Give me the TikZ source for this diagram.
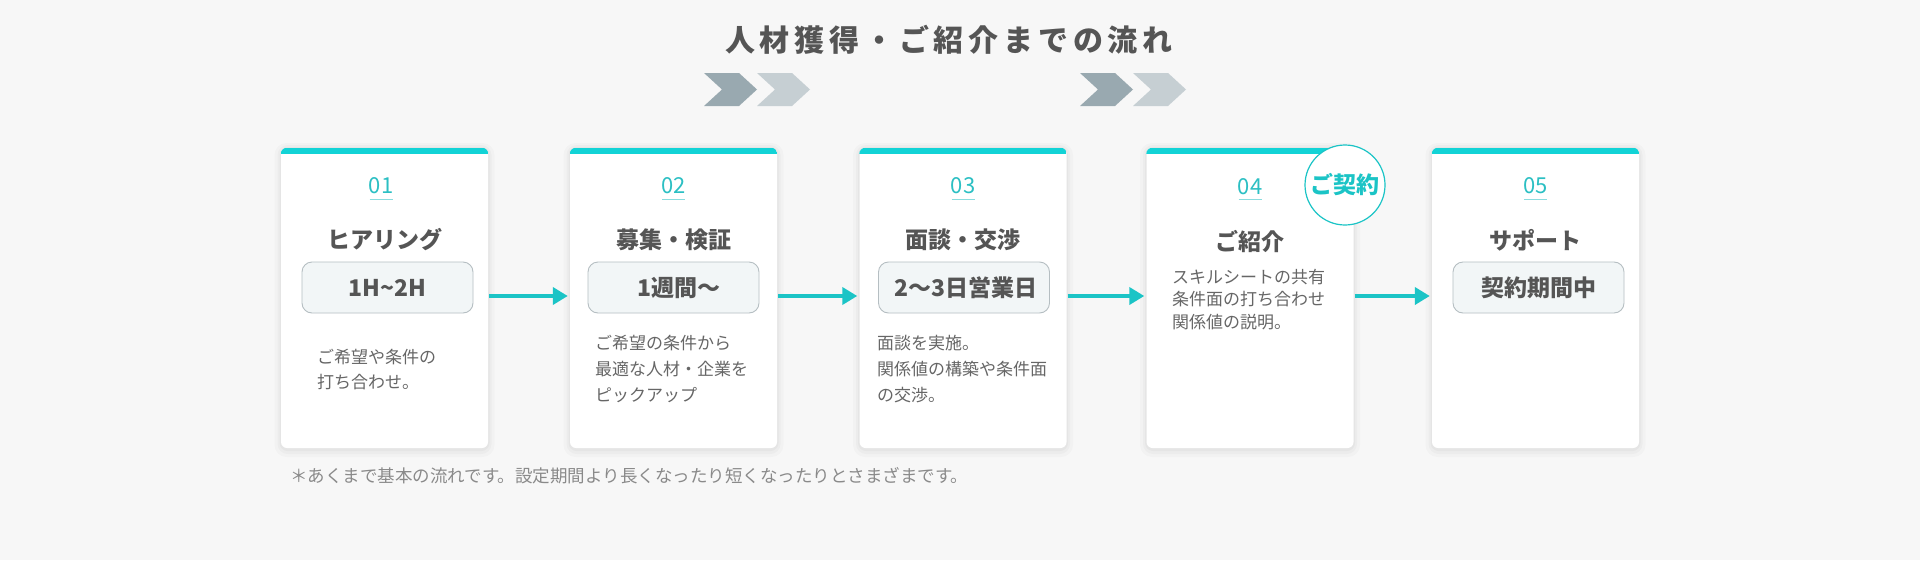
\documentclass[tikz,border=0pt]{standalone}
\usepackage{fontspec}
\setmainfont{Noto Sans CJK JP}
\newfontfamily\titlefont{Noto Sans CJK JP}[LetterSpace=16]
\usetikzlibrary{arrows.meta}
\definecolor{bg}{HTML}{F7F7F7}
\definecolor{bar}{HTML}{12D3D6}
\definecolor{arrteal}{HTML}{1BC4C6}
\definecolor{numteal}{HTML}{2BBFC3}
\definecolor{txt}{HTML}{555555}
\definecolor{desc}{HTML}{666666}
\definecolor{foot}{HTML}{8A8A8A}
\definecolor{pillfill}{HTML}{F2F6F7}
\definecolor{pillline}{HTML}{B5BEC2}
\definecolor{chevdark}{HTML}{99A9B0}
\definecolor{chevlight}{HTML}{C6CFD3}
\tikzset{
  card/.style={draw=none, fill=white, rounded corners=6, minimum width=207, minimum height=300, inner sep=0},
  pill/.style={draw=pillline, line width=0.9, fill=pillfill, rounded corners=10, minimum width=171, minimum height=51, inner sep=0, text=txt, font=\bfseries\fontsize{23}{28}\selectfont},
  numlabel/.style={text=numteal, font=\fontsize{22}{26}\selectfont, inner sep=0},
  steptitle/.style={text=txt, font=\bfseries\fontsize{23}{28}\selectfont, inner sep=0},
  desctext/.style={text=desc, anchor=west, align=left, inner sep=0},
  arr/.style={draw=arrteal, line width=4, -{Triangle[length=15pt,width=17pt]}, shorten >=2pt, shorten <=1pt},
  badge/.style={circle, draw=arrteal, line width=1.2, fill=white, minimum size=80, inner sep=0, text=arrteal, font=\bfseries\fontsize{23}{28}\selectfont}
}
\begin{document}
\begin{tikzpicture}[x=1pt,y=-1pt]
\useasboundingbox[fill=bg] (0,0) rectangle (1920,560);

% title
\node[text=txt, font=\titlefont\bfseries\fontsize{30}{36}\selectfont, inner sep=0] (title) at (949,40) {人材獲得・ご紹介までの流れ};

% chevrons
\foreach \x/\c in {704/chevdark, 757/chevlight, 1080/chevdark, 1133/chevlight}{
  \fill[\c] (\x,73) -- (\x+35,73) -- (\x+53,89.5) -- (\x+35,106) -- (\x,106) -- (\x+18,89.5) -- cycle;
}

% shadows
\foreach \cx in {384.5, 673.5, 963, 1250, 1535.5}{
  \fill[black, opacity=0.018, rounded corners=12] (\cx-110,143) rectangle (\cx+110,457);
  \fill[black, opacity=0.022, rounded corners=10] (\cx-107,145) rectangle (\cx+107,454);
  \fill[black, opacity=0.028, rounded corners=8] (\cx-105,147) rectangle (\cx+105,451);
}

% cards
\foreach \i/\cx/\nx in {1/384.5/381, 2/673.5/673.5, 3/963/963, 4/1250/1250, 5/1535.5/1535.5}{
  \node[card] (c\i) at (\cx,298) {};
  \begin{scope}
    \clip[rounded corners=6] (c\i.north west) rectangle (c\i.south east);
    \fill[bar] (c\i.north west) rectangle ([yshift=-6pt]c\i.north east);
  \end{scope}
  \draw[numteal!55, line width=1.5] (\nx-11.5,199.5) -- (\nx+11.5,199.5);
}

% numbers
\node[numlabel] (n1) at (381,185.5) {01};
\node[numlabel] (n2) at (673.5,185.5) {02};
\node[numlabel] (n3) at (963,185.5) {03};
\node[numlabel] (n4) at (1250,186.5) {04};
\node[numlabel] (n5) at (1535.5,185.5) {05};

% titles
\node[steptitle] (t1) at (384.5,240) {ヒアリング};
\node[steptitle] (t2) at (673.5,240) {募集・検証};
\node[steptitle] (t3) at (963,240) {面談・交渉};
\node[steptitle] (t4) at (1250,241) {ご紹介};
\node[steptitle] (t5) at (1535.5,240) {サポート};

% pills
\node[pill] (p1) at (387.5,287.5) {1H\textasciitilde 2H};
\node[pill] (p2) at (673.5,287.5) {\hspace{10pt}1週間〜};
\node[pill] (p3) at (964,287.5) {\hspace{4pt}2〜3日営業日};
\node[pill] (p5) at (1538.5,287.5) {契約期間中};

% descriptions
\node[desctext, font=\fontsize{17}{25}\selectfont] (d1) at (317,369.5) {ご希望や条件の\\打ち合わせ。};
\node[desctext, font=\fontsize{17}{26}\selectfont] (d2) at (595,369) {ご希望の条件から\\最適な人材・企業を\\ピックアップ};
\node[desctext, font=\fontsize{17}{26}\selectfont] (d3) at (877,369) {面談を実施。\\関係値の構築や条件面\\の交渉。};
\node[desctext, font=\fontsize{17}{22.5}\selectfont] (d4) at (1172,299.5) {スキルシートの共有\\条件面の打ち合わせ\\関係値の説明。};

% badge
\node[badge] (b4) at (1345,185) {ご契約};

% arrows
\draw[arr] ([yshift=2pt]c1.east) -- ([yshift=2pt]c2.west);
\draw[arr] ([yshift=2pt]c2.east) -- ([yshift=2pt]c3.west);
\draw[arr] ([yshift=2pt]c3.east) -- ([yshift=2pt]c4.west);
\draw[arr] ([yshift=2pt]c4.east) -- ([yshift=2pt]c5.west);

% footnote
\node[text=foot, anchor=west, inner sep=0, font=\fontsize{17.5}{21}\selectfont] (fn) at (290,476) {＊あくまで基本の流れです。設定期間より長くなったり短くなったりとさまざまです。};
\end{tikzpicture}
\end{document}
